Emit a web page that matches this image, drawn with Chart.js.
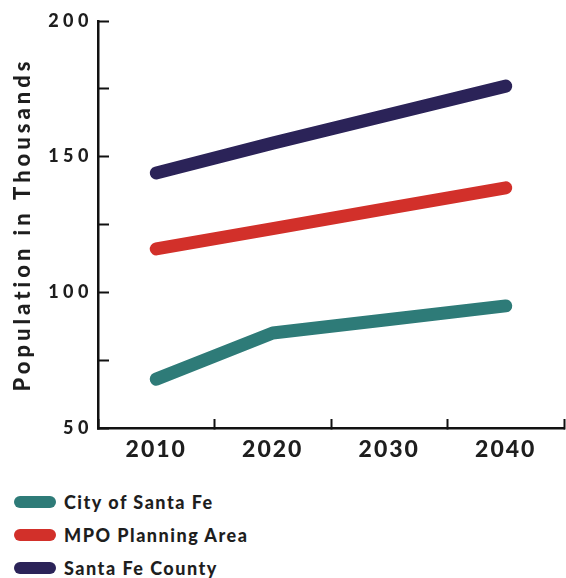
<!DOCTYPE html>
<html>
<head>
<meta charset="utf-8">
<script src="https://cdn.jsdelivr.net/npm/chart.js@4"></script>
<style>
  html, body { margin: 0; padding: 0; background: #fff; }
  #wrap { position: relative; width: 566px; height: 578px; }
  #chart-box { position: absolute; left: 0; top: 0; width: 566px; height: 480px; }
  #legend { position: absolute; left: 14px; top: 485px; font-family: Lato, sans-serif; font-weight: 900; font-size: 18px; letter-spacing: 1.5px; color: #1e1e1e; }
  .item { display: flex; align-items: center; height: 33px; }
  .swatch { width: 42px; height: 12px; border-radius: 6px; margin-right: 8px; }
</style>
</head>
<body>
<div id="wrap">
  <div id="chart-box"><canvas id="chart"></canvas></div>
  <div id="legend"></div>
</div>
<script>
const years = ['2010', '2020', '2030', '2040'];
const cityValues = [68, 85, 90, 95];
const mpoValues = [116, 123.5, 131, 138.5];
const countyValues = [144, 155, 165.5, 176];
const yTickLabels = [50, 100, 150, 200];

const AXIS_LEFT = 98;
const AXIS_BOTTOM = 428;
const CANVAS_H = 480;

const datasets = [
  { label: 'City of Santa Fe', data: cityValues, borderColor: '#2e7b78' },
  { label: 'MPO Planning Area', data: mpoValues, borderColor: '#d2302a' },
  { label: 'Santa Fe County', data: countyValues, borderColor: '#2b2358' }
].map(d => Object.assign(d, {
  borderWidth: 13,
  borderCapStyle: 'round',
  borderJoinStyle: 'round',
  pointRadius: 0,
  tension: 0,
  fill: false
}));

// the original uses a widely tracked typeface, so add letter spacing per scale
const spacing = { xLabels: '2px', yLabels: '4.5px', yTitle: '4px' };
const trackingPlugin = {
  id: 'tracking',
  afterLayout(chart) {
    const wrap = (scale, key, value) => {
      const orig = scale[key];
      if (orig._tracked) return;
      const fn = function (...args) {
        const old = this.ctx.letterSpacing;
        this.ctx.letterSpacing = value;
        orig.apply(this, args);
        this.ctx.letterSpacing = old || '0px';
      };
      fn._tracked = true;
      scale[key] = fn;
    };
    wrap(chart.scales.x, 'drawLabels', spacing.xLabels);
    wrap(chart.scales.y, 'drawLabels', spacing.yLabels);
    wrap(chart.scales.y, 'drawTitle', spacing.yTitle);
  }
};

const chart = new Chart(document.getElementById('chart'), {
  type: 'line',
  data: { labels: years, datasets },
  plugins: [trackingPlugin],
  options: {
    responsive: true,
    maintainAspectRatio: false,
    animation: false,
    layout: { padding: { top: 21, right: 2, left: 0, bottom: 0 } },
    plugins: { legend: { display: false }, tooltip: { enabled: false } },
    scales: {
      x: {
        offset: true,
        grid: { offset: true, drawOnChartArea: false, tickLength: -9, tickWidth: 2, tickColor: '#111' },
        border: { color: '#111', width: 2.5 },
        ticks: { color: '#1e1e1e', padding: 17, font: { family: 'Lato', weight: 900, size: 23 } },
        afterFit: s => {
          s.height = CANVAS_H - AXIS_BOTTOM;
          s.paddingLeft = 0;
          s.paddingRight = 0;
        }
      },
      y: {
        min: 50,
        max: 200,
        ticks: {
          stepSize: 25,
          color: '#1e1e1e',
          padding: 16,
          font: { family: 'Lato', weight: 900, size: 18 },
          callback: v => yTickLabels.includes(v) ? String(v) : ''
        },
        grid: { drawOnChartArea: false, tickLength: -11, tickWidth: 2, tickColor: '#111' },
        border: { color: '#111', width: 2.5 },
        title: {
          display: true,
          text: 'Population in Thousands',
          color: '#1e1e1e',
          padding: { top: 10, bottom: 0 },
          font: { family: 'Lato', weight: 900, size: 22 }
        },
        afterFit: s => {
          s.width = AXIS_LEFT;
          s.paddingTop = 0;
          s.paddingBottom = 0;
        }
      }
    }
  }
});
chart.draw();

// legend built from the datasets
const legend = document.getElementById('legend');
chart.data.datasets.forEach(d => {
  const row = document.createElement('div');
  row.className = 'item';
  row.innerHTML = `<span class="swatch" style="background:${d.borderColor}"></span><span>${d.label}</span>`;
  legend.appendChild(row);
});
</script>
</body>
</html>
